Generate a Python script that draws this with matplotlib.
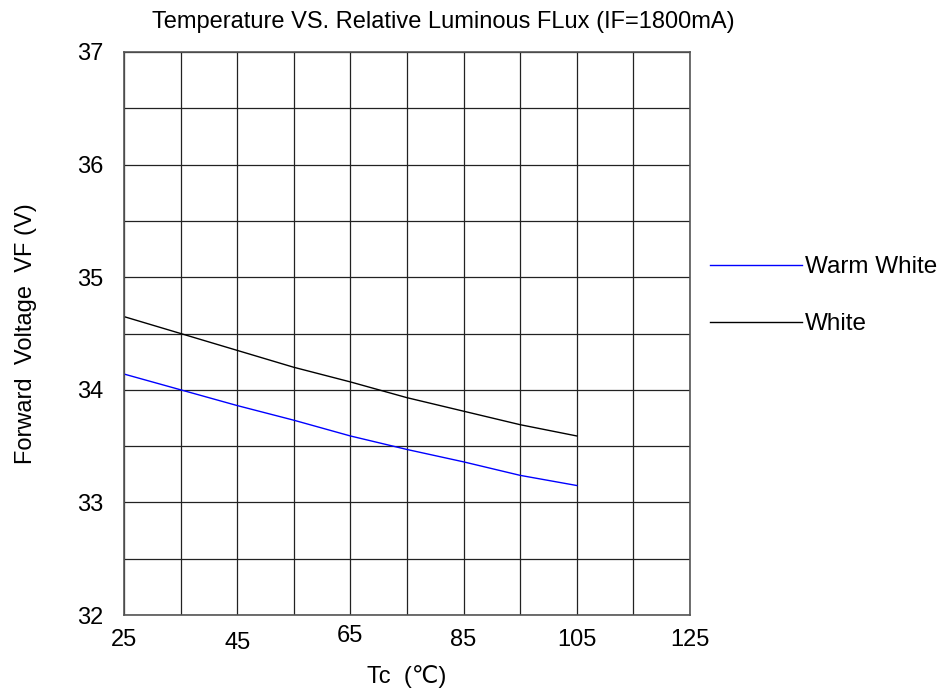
import numpy as np
import matplotlib
matplotlib.use("Agg")
import matplotlib.pyplot as plt
import matplotlib.transforms as mtransforms

plt.rcParams["font.family"] = ["Liberation Sans", "DejaVu Sans"]

# ─── data ─────────────────────────────────────────────────────────────────────
tc = [25, 35, 45, 55, 65, 75, 85, 95, 105]
vf_warm_white = [34.14, 34.00, 33.86, 33.73, 33.59, 33.47, 33.36, 33.24, 33.15]
vf_white = [34.65, 34.50, 34.35, 34.20, 34.07, 33.93, 33.81, 33.69, 33.59]
x_ticks = [25, 45, 65, 85, 105, 125]
x_minor = [35, 55, 75, 95, 115]
y_ticks = [32, 33, 34, 35, 36, 37]
y_minor = [32.5, 33.5, 34.5, 35.5, 36.5]
# small vertical jitter of the x tick labels seen in the original (points)
x_tick_shift = [0, -2, 3, 0, 0, 0]

fig = plt.figure(figsize=(9.49, 6.88), dpi=100)
ax = fig.add_axes([124 / 949, 1 - 615 / 688, 566 / 949, 563 / 688])

ax.plot(tc, vf_warm_white, color="#0000FF", linewidth=1.0, label="Warm White")
ax.plot(tc, vf_white, color="black", linewidth=1.0, label="White")

ax.set_xlim(25, 125)
ax.set_ylim(32, 37)
ax.set_xticks(x_ticks)
ax.set_xticks(x_minor, minor=True)
ax.set_yticks(y_ticks)
ax.set_yticks(y_minor, minor=True)
ax.grid(True, which="both", color="#222222", linewidth=0.9)
ax.tick_params(which="both", length=0, labelsize=17)
ax.tick_params(axis="x", pad=10)
ax.tick_params(axis="y", pad=15)
for spine in ax.spines.values():
    spine.set_edgecolor("#555555")
    spine.set_linewidth(1.2)

for lbl, dy in zip(ax.get_xticklabels(), x_tick_shift):
    lbl.set_transform(lbl.get_transform() +
                      mtransforms.ScaledTranslation(0, dy / 72, fig.dpi_scale_trans))

fig.text(443 / 949, 1 - 22 / 688, "Temperature VS. Relative Luminous FLux (IF=1800mA)",
         ha="center", va="center", fontsize=17)
ax.set_xlabel("Tc  (℃)", fontsize=17, labelpad=8,
              family=["Liberation Sans", "DejaVu Sans"])
ax.set_ylabel("Forward  Voltage  VF (V)", fontsize=17, labelpad=29)

ax.legend(loc="upper left", bbox_to_anchor=(710 / 949, 1 - 256 / 688),
          bbox_transform=fig.transFigure, frameon=False, fontsize=17.5,
          handlelength=3.8, handletextpad=0.1, labelspacing=1.45,
          borderaxespad=0, borderpad=0)

fig.savefig("out.png", dpi=100, facecolor="white")
